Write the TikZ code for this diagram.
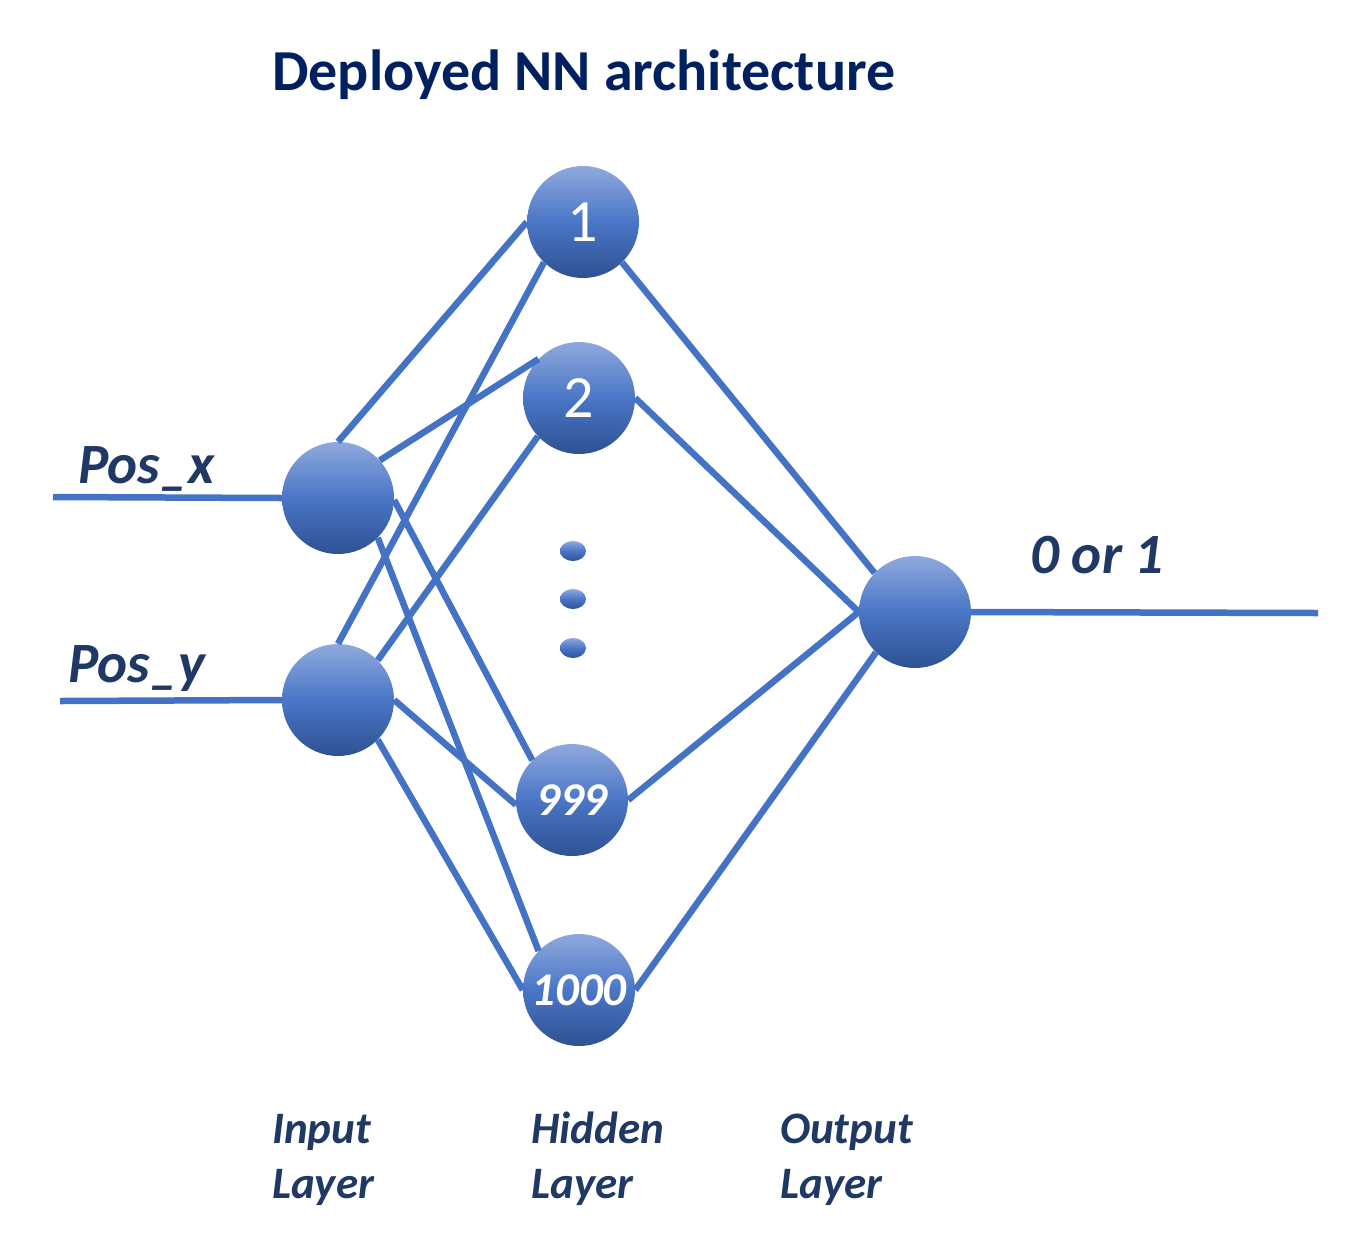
\documentclass[tikz,border=0pt]{standalone}
\usepackage{fontspec}
\setmainfont{Carlito}
\usetikzlibrary{shapes.geometric}
\definecolor{linec}{HTML}{4472C4}
\definecolor{ntop}{HTML}{8FA9DD}
\definecolor{nmid}{HTML}{4A76C6}
\definecolor{nbot}{HTML}{2E5192}
\definecolor{titlec}{HTML}{002060}
\definecolor{labc}{HTML}{1F3864}
\tikzset{
  neuron/.style={circle, minimum size=112pt, inner sep=0pt, top color=ntop, bottom color=nbot, middle color=nmid, text=white},
  dotn/.style={ellipse, minimum width=26pt, minimum height=20pt, inner sep=0pt, top color=ntop, bottom color=nbot, middle color=nmid},
  conn/.style={draw=linec, line width=6.5pt},
  lab/.style={anchor=base west, text=labc, inner sep=0pt, font=\fontsize{57}{60}\selectfont\bfseries\itshape},
  laylab/.style={anchor=base west, text=labc, inner sep=0pt, align=left, font=\fontsize{45}{55}\selectfont\bfseries\itshape},
}
\begin{document}
\begin{tikzpicture}[x=1pt,y=-1pt]
\useasboundingbox (0,0) rectangle (1351,1235);
\node[anchor=base west, text=titlec, inner sep=0pt, font=\fontsize{58}{60}\selectfont\bfseries] (title) at (272,90) {Deployed NN architecture};
% neurons
\node[neuron] (ix) at (338,498) {};
\node[neuron] (iy) at (338,700) {};
\node[neuron, font=\fontsize{60}{60}\selectfont] (h1) at (583,222) {1};
\node[neuron, font=\fontsize{60}{60}\selectfont] (h2) at (579,398) {2};
\node[neuron, font=\fontsize{47}{50}\selectfont\bfseries\itshape] (h999) at (572,800) {999};
\node[neuron, font=\fontsize{47}{50}\selectfont\bfseries\itshape] (h1000) at (579,990) {1000};
\node[neuron] (out) at (915,612) {};
\node[dotn] (d1) at (573,551) {};
\node[dotn] (d2) at (573,599) {};
\node[dotn] (d3) at (573,648) {};
% free ends
\coordinate (inx) at (53,497);
\coordinate (iny) at (60,701);
\coordinate (outend) at (1318,613);
% connectors
\draw[conn] (inx) -- (ix.180);
\draw[conn] (iny) -- (iy.180);
\draw[conn] (out.0) -- (outend);
\draw[conn] (ix.90) -- (h1.180);
\draw[conn] (ix.42) -- (h2.136);
\draw[conn] (ix.-2) -- (h999.135);
\draw[conn] (ix.-45) -- (h1000.136);
\draw[conn] (iy.90) -- (h1.226);
\draw[conn] (iy.45) -- (h2.223);
\draw[conn] (iy.0) -- (h999.185);
\draw[conn] (iy.-45) -- (h1000.180);
\draw[conn] (h1.-46) -- (out.136);
\draw[conn] (h2.0) -- (out.180);
\draw[conn] (h999.0) -- (out.180);
\draw[conn] (h1000.0) -- (out.226);
% labels
\node[lab] (px) at (78,483) {Pos\_x};
\node[lab] (py) at (68,682) {Pos\_y};
\node[lab] (o) at (1030,573) {0 or 1};
\node[laylab] (li) at (272,1198) {Input\\Layer};
\node[laylab] (lh) at (531,1198) {Hidden\\Layer};
\node[laylab] (lo) at (780,1198) {Output\\Layer};
\end{tikzpicture}
\end{document}
